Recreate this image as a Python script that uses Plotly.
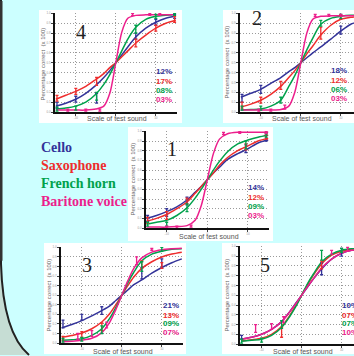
import plotly.graph_objects as go

W, H = 354, 356

# ---------------- data ----------------
X_GRID = [-1.5, -1.25, -1.0, -0.75, -0.5, -0.3, -0.15, 0.0, 0.15, 0.3, 0.5, 0.75, 1.0, 1.25, 1.5]
INSTRUMENTS = ["Cello", "Saxophone", "French horn", "Baritone voice"]
X_TICKS = [-1, 0, 1]
X_TICKTEXT = ["-10", "0", "10"]
Y_TICKS = [0, 10, 20, 30, 40, 50, 60, 70, 80, 90, 100]
Y_TICKTEXT = ["0.0", "0.1", "0.2", "0.3", "0.4", "0.5", "0.6", "0.7", "0.8", "0.9", "1.0"]

# Panel 1
P1_CELLO = [10, 13, 17, 22, 29, 37, 43, 50, 57, 63, 71, 77, 82, 88, 91]
P1_SAX = [7, 10, 14, 20, 27, 36, 43, 50, 57, 65, 73, 80, 85, 90, 93]
P1_HORN = [4, 6, 8, 13, 21, 31, 40, 50, 60, 69, 79, 87, 91, 94, 96]
P1_VOICE = [1, 1, 1, 1.5, 2.5, 8, 23, 50, 77, 92, 97.5, 99, 99, 99, 99]
P1_PCT = ["14%", "12%", "09%", "03%"]
P1_CELLO_PTS = [(-1.47, 10, 3), (-1.0, 16, 4), (-0.5, 28, 4), (0.95, 82, 4), (1.45, 93, 3)]
P1_SAX_PTS = [(-1.47, 8, 3), (-1.0, 13, 4), (-0.5, 28, 3), (0.95, 84, 3), (1.45, 94, 2)]
P1_HORN_PTS = [(-1.47, 4, 2), (-1.0, 4, 2), (-0.5, 21, 4), (0.95, 86, 4), (1.45, 96, 2)]
P1_VOICE_PTS = [(-1.0, 1, 1), (-0.75, 1, 1), (-0.4, 2, 1), (0.4, 98, 1), (0.8, 99, 1), (1.45, 99, 1)]

# Panel 2
P2_CELLO = [15, 19, 23, 29, 35, 41, 45, 50, 55, 60, 66, 74, 82, 89, 92]
P2_SAX = [5, 8, 12, 18, 26, 35, 42, 50, 59, 67, 78, 88, 94, 96, 97]
P2_HORN = [2, 2.5, 3, 6, 12, 26, 37, 50, 63, 75, 89, 95, 97, 98, 98]
P2_VOICE = [2, 2, 2, 2, 2.5, 6, 20, 50, 80, 94, 97, 97.5, 97.5, 97.5, 97.5]
P2_PCT = ["18%", "12%", "06%", "03%"]
P2_CELLO_PTS = [(-1.47, 14, 4), (-1.0, 23, 4), (1.0, 83, 4)]
P2_SAX_PTS = [(-1.47, 7, 3), (-1.0, 12, 3), (-0.5, 27, 4), (0.5, 80, 6), (1.0, 96, 2)]
P2_HORN_PTS = [(-1.47, 4, 2), (-1.0, 4, 2), (-0.5, 12, 3), (0.5, 90, 3), (1.0, 97, 2)]
P2_VOICE_PTS = [(-1.05, 2, 1), (-0.75, 2, 1), (-0.4, 5, 2), (0.36, 98, 1), (0.7, 98, 1), (1.0, 98, 1)]

# Panel 3
P3_CELLO = [16, 19.5, 23.5, 28.5, 34, 39, 44.5, 50, 55.5, 61, 66, 73, 79, 84, 88]
P3_SAX = [6, 8, 10.5, 15, 22, 31, 40, 50, 60, 69, 78, 85, 90, 93, 95]
P3_HORN = [3, 3.5, 4.5, 8, 15, 26, 37, 50, 63, 74, 86, 93, 96, 98, 98.5]
P3_VOICE = [1.5, 2, 3, 5, 11, 22, 35, 50, 65, 78, 89, 95, 97.5, 98.5, 99]
P3_PCT = ["21%", "13%", "09%", "07%"]
P3_CELLO_PTS = [(-1.47, 20, 4), (-1.0, 27, 3), (-0.5, 34, 4), (0.5, 73, 6), (1.0, 83, 5)]
P3_SAX_PTS = [(-1.47, 5, 2), (-1.0, 9, 3), (-0.5, 17, 4), (0.5, 82, 4), (1.0, 81, 3)]
P3_HORN_PTS = [(-1.47, 3, 2), (-1.0, 4, 2), (-0.5, 14, 4), (0.5, 80, 5), (1.0, 98, 2)]
P3_VOICE_PTS = [(-1.1, 7, 3), (-0.75, 10, 3), (-0.38, 19, 3), (0.37, 86, 4), (0.75, 98, 1)]

# Panel 4
P4_CELLO = [6, 9, 13, 19, 27, 35, 42, 50, 58, 66, 76, 85, 91, 95, 97]
P4_SAX = [13, 17, 21, 26, 33, 39, 45, 50, 56, 62, 70, 78, 85, 90, 93]
P4_HORN = [3, 4, 6, 10, 18, 28, 38, 50, 62, 74, 86, 94, 97, 98, 99]
P4_VOICE = [2, 2, 2, 2, 3, 6, 19, 50, 81, 95, 98, 98.5, 98.5, 98.5, 98.5]
P4_PCT = ["12%", "17%", "08%", "03%"]
P4_CELLO_PTS = [(-1.47, 7, 3), (-1.0, 13, 3), (-0.48, 14, 5), (0.5, 77, 3), (1.0, 91, 3), (1.47, 97, 2)]
P4_SAX_PTS = [(-1.47, 14, 3), (-1.0, 21, 3), (-0.48, 31, 4), (0.5, 70, 4), (1.0, 85, 3), (1.47, 94, 3)]
P4_HORN_PTS = [(-1.47, 3, 2), (-1.0, 4, 2), (-0.48, 16, 4), (0.5, 84, 4), (1.0, 97, 2), (1.47, 99, 1)]
P4_VOICE_PTS = [(-1.2, 2, 1), (-0.75, 2, 1), (-0.4, 2, 1), (0.42, 99, 1), (0.85, 99, 1), (1.1, 99, 1)]

# Panel 5
P5_CELLO = [5, 7, 10, 15, 23, 33, 41.5, 50, 58.5, 67, 77, 87, 93, 96, 97]
P5_SAX = [3.5, 4.5, 6, 10, 18, 29, 39, 50, 61, 71, 82, 91, 95, 97, 98]
P5_HORN = [3, 4, 5, 9, 17, 28, 38, 50, 62, 72, 84, 92, 96, 97.5, 98]
P5_VOICE = [5, 7, 10, 15, 23, 33, 41, 50, 59, 67, 78, 87, 93, 96, 97]
P5_PCT = ["10%", "07%", "07%", "10%"]
P5_CELLO_PTS = [(-1.5, 7, 2), (0.5, 77, 6), (1.0, 94, 4)]
P5_SAX_PTS = [(-0.5, 12, 5), (0.5, 81, 4)]
P5_HORN_PTS = [(-1.5, 3, 2), (-1.0, 4, 2), (-0.5, 20, 4), (0.5, 91, 5), (1.0, 96, 2)]
P5_VOICE_PTS = [(-1.15, 16, 4), (-0.75, 18, 3), (-0.45, 25, 3), (0.75, 94, 2), (1.15, 97, 2)]

# ---------------- styling / layout ----------------
COLORS = ["#333399", "#ee2d2d", "#00a14b", "#ec1e8c"]
SERIF = "Liberation Serif, Times New Roman, serif"
SANS = "Liberation Sans, Arial, sans-serif"

PANELS = [
    dict(name="1", curves=[P1_CELLO, P1_SAX, P1_HORN, P1_VOICE],
         pts=[P1_CELLO_PTS, P1_SAX_PTS, P1_HORN_PTS, P1_VOICE_PTS], pct=P1_PCT,
         plot=(146, 131, 269, 229), box=(128, 127, 273, 242), xr=(-1.51, 1.52),
         num=(172, 149), pctpos=(256, [188, 198, 207, 216], "center"),
         ytitle=(133, 180), xtitle=(209, 238)),
    dict(name="2", curves=[P2_CELLO, P2_SAX, P2_HORN, P2_VOICE],
         pts=[P2_CELLO_PTS, P2_SAX_PTS, P2_HORN_PTS, P2_VOICE_PTS], pct=P2_PCT,
         plot=(240, 12, 354, 112), box=(223, 9, 354, 123), xr=(-1.52, 1.33),
         num=(257, 17), pctpos=(339, [70, 80, 89, 98], "center"),
         ytitle=(227, 62), xtitle=(302, 119)),
    dict(name="3", curves=[P3_CELLO, P3_SAX, P3_HORN, P3_VOICE],
         pts=[P3_CELLO_PTS, P3_SAX_PTS, P3_HORN_PTS, P3_VOICE_PTS], pct=P3_PCT,
         plot=(61, 248, 183, 345), box=(44, 244, 186, 356), xr=(-1.52, 1.53),
         num=(87, 266), pctpos=(171, [307, 317, 325, 334], "center"),
         ytitle=(49, 297), xtitle=(123, 353)),
    dict(name="4", curves=[P4_CELLO, P4_SAX, P4_HORN, P4_VOICE],
         pts=[P4_CELLO_PTS, P4_SAX_PTS, P4_HORN_PTS, P4_VOICE_PTS], pct=P4_PCT,
         plot=(55, 12, 177, 112), box=(39, 9, 182, 123), xr=(-1.52, 1.53),
         num=(81, 31), pctpos=(164, [71, 81, 90, 99], "center"),
         ytitle=(43, 64), xtitle=(117, 119)),
    dict(name="5", curves=[P5_CELLO, P5_SAX, P5_HORN, P5_VOICE],
         pts=[P5_CELLO_PTS, P5_SAX_PTS, P5_HORN_PTS, P5_VOICE_PTS], pct=P5_PCT,
         plot=(240, 247, 354, 346), box=(222, 244, 354, 356), xr=(-1.54, 1.31),
         num=(265, 266), pctpos=(340, [307, 317, 325, 334], "left"),
         ytitle=(227, 297), xtitle=(303, 353)),
]


def fx(x):
    return x / W


def fy(y):
    return 1 - y / H


fig = go.Figure()
shapes = []
annotations = []
layout_axes = {}

for i, p in enumerate(PANELS, start=1):
    xa = "x" if i == 1 else f"x{i}"
    ya = "y" if i == 1 else f"y{i}"
    x0, y0, x1, y1 = p["plot"]
    axis_common = dict(
        showline=True, linecolor="#111", linewidth=1.5, mirror=False,
        showgrid=True, gridcolor="#9a9a9a", griddash="1px,2px", gridwidth=1,
        zeroline=False, ticks="outside", ticklen=2, tickcolor="#444",
        tickfont=dict(size=3, color="#999", family=SANS), fixedrange=True,
    )
    layout_axes["xaxis" if i == 1 else f"xaxis{i}"] = dict(
        axis_common, domain=[fx(x0), fx(min(x1, W))], range=list(p["xr"]),
        anchor=ya, tickvals=X_TICKS, ticktext=X_TICKTEXT)
    layout_axes["yaxis" if i == 1 else f"yaxis{i}"] = dict(
        axis_common, domain=[fy(y1), fy(y0)], range=[0, 100.5],
        anchor=xa, tickvals=Y_TICKS, ticktext=Y_TICKTEXT)

    # white panel box
    bx0, by0, bx1, by1 = p["box"]
    shapes.append(dict(type="rect", xref="paper", yref="paper", layer="below",
                       x0=fx(bx0), x1=fx(bx1), y0=fy(by1), y1=fy(by0),
                       fillcolor="white", line=dict(width=0)))

    for k in range(4):
        fig.add_trace(go.Scatter(
            x=X_GRID, y=p["curves"][k], mode="lines", xaxis=xa, yaxis=ya,
            line=dict(color=COLORS[k], width=1.5, shape="spline", smoothing=0.8),
            hoverinfo="skip", showlegend=False))
    for k in range(4):
        pts = p["pts"][k]
        fig.add_trace(go.Scatter(
            x=[q[0] for q in pts], y=[q[1] for q in pts], mode="markers",
            xaxis=xa, yaxis=ya, marker=dict(size=1, color=COLORS[k]),
            error_y=dict(type="data", array=[q[2] for q in pts], color=COLORS[k],
                         thickness=1.3, width=1.5),
            showlegend=False, hoverinfo="skip"))

    # panel number
    nx, ny = p["num"]
    annotations.append(dict(text=p["name"], x=fx(nx), y=fy(ny), xref="paper", yref="paper",
                            showarrow=False, xanchor="center", yanchor="middle",
                            font=dict(family=SERIF, size=20, color="#222")))
    # percentages
    px_, pys, anch = p["pctpos"]
    for k in range(4):
        annotations.append(dict(text=f"<b>{p['pct'][k]}</b>", x=fx(px_), y=fy(pys[k]),
                                xref="paper", yref="paper", showarrow=False,
                                xanchor=anch, yanchor="middle",
                                font=dict(family=SANS, size=8, color=COLORS[k])))
    # axis titles
    tx, ty = p["ytitle"]
    annotations.append(dict(text="Percentage correct  (x 100)", x=fx(tx), y=fy(ty),
                            xref="paper", yref="paper", showarrow=False, textangle=-90,
                            xanchor="center", yanchor="middle",
                            font=dict(family=SANS, size=6, color="#666")))
    tx, ty = p["xtitle"]
    annotations.append(dict(text="Scale of test sound", x=fx(tx), y=fy(ty),
                            xref="paper", yref="paper", showarrow=False,
                            xanchor="center", yanchor="middle",
                            font=dict(family=SANS, size=7, color="#555")))

# legend text
LEG_Y = [148, 166, 184, 202]
for k, name in enumerate(INSTRUMENTS):
    annotations.append(dict(text=f"<b>{name}</b>", x=fx(39), y=fy(LEG_Y[k]),
                            xref="paper", yref="paper", showarrow=False,
                            xanchor="left", yanchor="middle",
                            font=dict(family=SERIF, size=14, color=COLORS[k])))

# slide decoration: left border and rounded corner
shapes.append(dict(type="path", xref="paper", yref="paper", layer="below",
                   path=f"M {fx(0)},{fy(0)} L {fx(1.5)},{fy(0)} L {fx(1.5)},{fy(265)} "
                        f"Q {fx(3.5)},{fy(335)} {fx(30)},{fy(357)} L {fx(0)},{fy(357)} Z",
                   fillcolor="#c6ddd4", line=dict(width=0)))
shapes.append(dict(type="path", xref="paper", yref="paper", layer="below",
                   path=f"M {fx(1)},{fy(-1)} L {fx(1)},{fy(265)} "
                        f"Q {fx(3)},{fy(335)} {fx(29)},{fy(357)}",
                   line=dict(color="#222", width=2)))
shapes.append(dict(type="rect", xref="paper", yref="paper", layer="below",
                   x0=0, x1=fx(2.5), y0=fy(262), y1=1,
                   fillcolor="#333", line=dict(width=0)))

fig.update_layout(
    width=W, height=H, margin=dict(l=0, r=0, t=0, b=0),
    paper_bgcolor="#ccffff", plot_bgcolor="white",
    shapes=shapes, annotations=annotations, showlegend=False,
    **layout_axes,
)

fig.write_html("out.html", config=dict(displayModeBar=False),
               post_script="document.body.style.margin='0px';document.body.style.overflow='hidden';")
